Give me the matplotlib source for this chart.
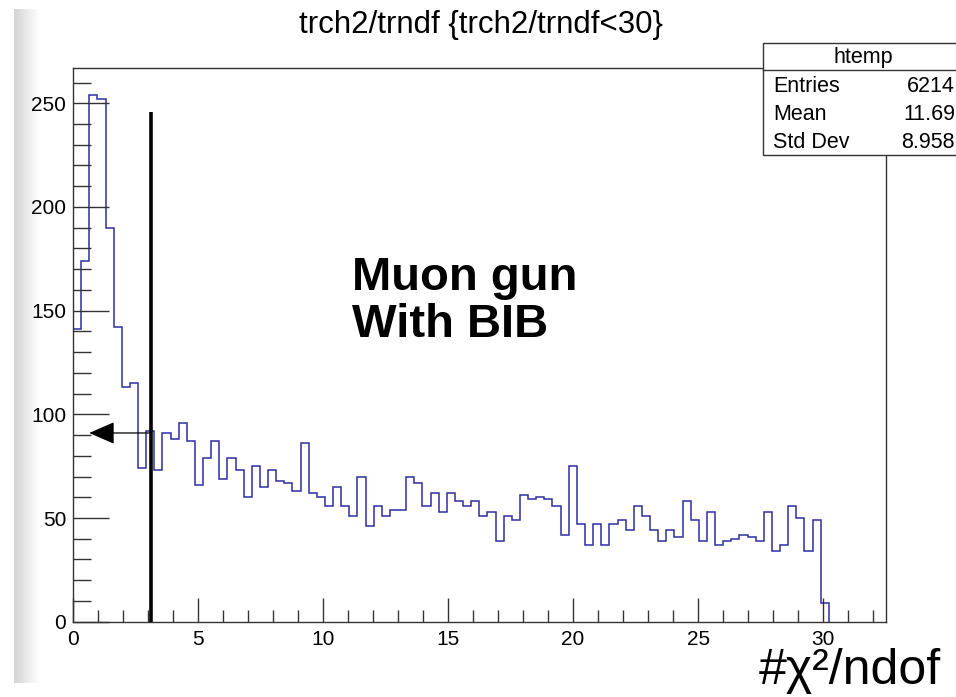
import matplotlib
matplotlib.use("Agg")
import matplotlib.pyplot as plt
import numpy as np
from matplotlib.patches import Rectangle
from matplotlib.lines import Line2D

plt.rcParams["font.family"] = ["Liberation Sans", "DejaVu Sans"]

# %% histogram contents (100 bins over 0..32.5, bins 93+ empty)
x_min, x_max, n_bins = 0.0, 32.5, 100
counts = [
    141, 174, 254, 252, 190, 142, 113, 115, 74, 92,
    73, 91, 88, 96, 87, 66, 79, 87, 69, 79,
    73, 60, 75, 65, 73, 68, 67, 63, 86, 62,
    60, 56, 65, 56, 51, 70, 46, 56, 51, 54,
    54, 70, 67, 56, 62, 53, 62, 58, 56, 58,
    51, 53, 39, 51, 49, 61, 59, 60, 59, 56,
    42, 75, 47, 37, 47, 37, 47, 49, 44, 56,
    51, 44, 39, 44, 41, 58, 49, 39, 53, 37,
    39, 40, 42, 41, 39, 53, 34, 37, 56, 50,
    34, 49, 9,
]
bin_w = (x_max - x_min) / n_bins
edges = x_min + bin_w * np.arange(len(counts) + 1)

title = "trch2/trndf {trch2/trndf<30}"
xlabel = "#χ²/ndof"
stat_name = "htemp"
stat_rows = [("Entries", "6214"), ("Mean", "11.69"), ("Std Dev", "8.958")]
cut_x, cut_top, arrow_y, arrow_tip = 3.1, 246, 91, 0.65
y_max = 267

W, H = 956, 697
fig = plt.figure(figsize=(W / 100, H / 100), dpi=100)

# screenshot shading strip on the left edge
bg = fig.add_axes([14 / W, 1 - 683 / H, 26 / W, 674 / H], zorder=-5)
grad = np.linspace(0.83, 1.0, 64)[None, :]
bg.imshow(grad, cmap="gray", vmin=0, vmax=1, aspect="auto", interpolation="bilinear")
bg.axis("off")

ax = fig.add_axes([73 / W, 1 - 621.7 / H, (885.7 - 73) / W, (621.7 - 68) / H])
ax.stairs(counts, edges, color="#2e2ea0", linewidth=1.1)
ax.set_xlim(x_min, x_max)
ax.set_ylim(0, y_max)

# cut line and arrow
ax.plot([cut_x, cut_x], [0, cut_top], color="black", linewidth=2.6, solid_capstyle="butt")
ax.annotate("", xy=(arrow_tip, arrow_y), xytext=(cut_x, arrow_y),
            arrowprops=dict(arrowstyle="-|>,head_length=1.6,head_width=0.7",
                            color="black", lw=0.9, shrinkA=0, shrinkB=0))

ax.text(11.15, 160, "Muon gun", fontsize=34, fontweight="bold", ha="left", va="baseline")
ax.text(11.15, 137.3, "With BIB", fontsize=34, fontweight="bold", ha="left", va="baseline")

ax.set_xticks(np.arange(0, 31, 5))
ax.set_xticks(np.arange(0, 33, 1), minor=True)
ax.set_yticks(np.arange(0, 251, 50))
ax.set_yticks(np.arange(0, 261, 10), minor=True)
ax.tick_params(axis="both", which="both", direction="in", color="#333333", width=1.0,
               labelsize=15)
ax.tick_params(axis="x", which="major", length=17, pad=6)
ax.tick_params(axis="x", which="minor", length=8.5)
ax.tick_params(axis="y", which="major", length=26, pad=5)
ax.tick_params(axis="y", which="minor", length=13)
for s in ax.spines.values():
    s.set_color("#333333")
    s.set_linewidth(1.0)

fig.text(481 / W, 1 - 25 / H, title, fontsize=22.5, ha="center", va="center")
fig.text(941 / W, 1 - 684 / H, xlabel, fontsize=36, ha="right", va="baseline")

# stat box
bx0, bx1, by0, by1, bdiv = 763, 962, 43, 155, 70
fig.patches.append(Rectangle((bx0 / W, 1 - by1 / H), (bx1 - bx0) / W, (by1 - by0) / H,
                             transform=fig.transFigure, facecolor="white",
                             edgecolor="#333333", linewidth=1.0, zorder=10))
fig.lines.append(Line2D([bx0 / W, bx1 / W], [1 - bdiv / H, 1 - bdiv / H],
                        transform=fig.transFigure, color="#333333", linewidth=1.0, zorder=11))
fig.text(863 / W, 1 - 57 / H, stat_name, fontsize=15.5, ha="center", va="center", zorder=12)
for i, (k, v) in enumerate(stat_rows):
    yy = 1 - (87 + 27.5 * i) / H
    fig.text(773 / W, yy, k, fontsize=15.5, ha="left", va="center", zorder=12)
    fig.text(955 / W, yy, v, fontsize=15.5, ha="right", va="center", zorder=12)

fig.savefig("out.png", dpi=100, facecolor="white")
